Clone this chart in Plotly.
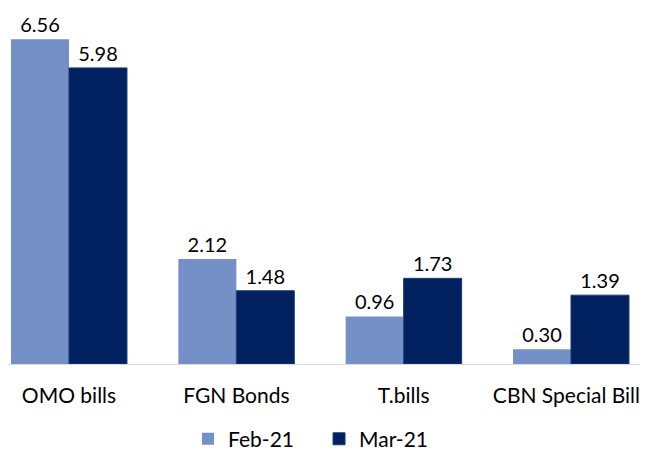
import plotly.graph_objects as go

categories = ["OMO bills", "FGN Bonds", "T.bills", "CBN Special Bills"]
feb_21 = [6.56, 2.12, 0.96, 0.30]
mar_21 = [5.98, 1.48, 1.73, 1.39]

fig = go.Figure()
fig.add_trace(go.Bar(
    x=categories, y=feb_21, name="Feb-21",
    marker=dict(color="#7590c6", line=dict(color="#7590c6", width=0)),
    text=[f"{v:.2f}" for v in feb_21], textposition="outside",
    textfont=dict(color="#000000", size=20), cliponaxis=False,
))
fig.add_trace(go.Bar(
    x=categories, y=mar_21, name="Mar-21",
    marker=dict(color="#00205f", line=dict(color="#1f3a78", width=1)),
    text=[f"{v:.2f}" for v in mar_21], textposition="outside",
    textfont=dict(color="#000000", size=20), cliponaxis=False,
))

# page body has an 8px margin, so everything below is shifted by -8px
fig.update_layout(
    width=648, height=452,
    margin=dict(l=0, r=0, t=0, b=96, autoexpand=False),
    paper_bgcolor="white", plot_bgcolor="white",
    font=dict(family="Lato, Open Sans, sans-serif", size=20, color="#000000"),
    barmode="group", bargap=0.307, bargroupgap=0,
    showlegend=True,
    legend=dict(orientation="h", x=0.48, xanchor="center", y=-0.211, yanchor="middle",
                font=dict(size=21), itemwidth=30, entrywidth=86, tracegroupgap=0),
)
fig.update_xaxes(range=[-0.3645, 3.508], showline=True, linecolor="#d9d9d9", linewidth=1,
                 ticks="", ticklabelstandoff=13, tickfont=dict(size=21), showgrid=False,
                 automargin=False)
fig.update_yaxes(range=[0, 7.19], visible=False, showgrid=False, automargin=False)

fig.write_html("out.html")
